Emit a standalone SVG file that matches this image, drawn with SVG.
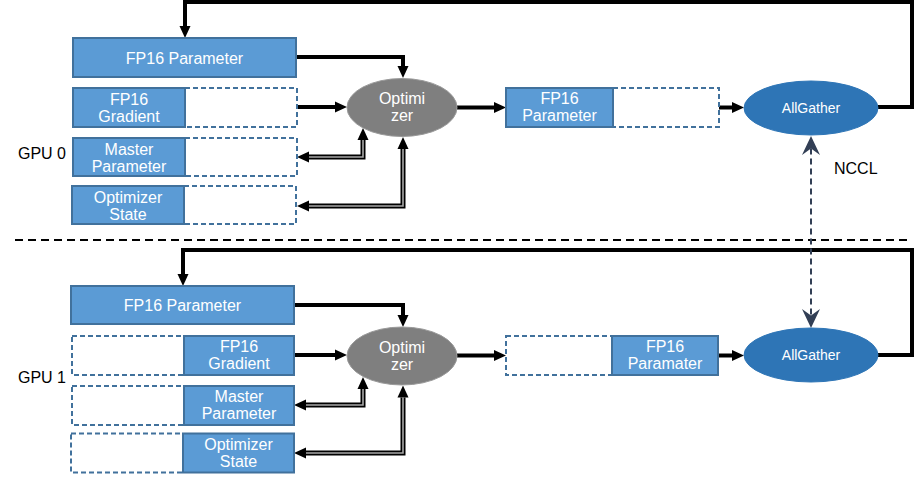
<svg xmlns="http://www.w3.org/2000/svg" width="916" height="484" viewBox="0 0 916 484">
<style>
.blue{fill:#5B9BD5;stroke:#41719C;stroke-width:2}
.dash{fill:#fff;stroke:#41719C;stroke-width:2;stroke-dasharray:5 3}
.t{font-family:"Liberation Sans",Arial,sans-serif;font-size:16px;fill:#fff;text-anchor:middle}
.lbl{font-family:"Liberation Sans",Arial,sans-serif;font-size:16px;fill:#000}
.ag{font-family:"Liberation Sans",Arial,sans-serif;font-size:14px;fill:#fff;text-anchor:middle}
.opt{fill:#7F7F7F;stroke:#9A9A9A;stroke-width:1}
.all{fill:#2E75B6;stroke:#2E75B6;stroke-width:1}
.thick{fill:none;stroke:#000;stroke-width:4;marker-end:url(#ah)}
.dbl{fill:none;stroke:#000;stroke-width:5;marker-start:url(#ah);marker-end:url(#ah)}
.dbli{fill:none;stroke:#A8A8A8;stroke-width:1.6}
.nccl{fill:none;stroke:#323F55;stroke-width:2;stroke-dasharray:6 4;marker-start:url(#nh);marker-end:url(#nh)}
</style>
<defs>
<marker id="ah" markerUnits="userSpaceOnUse" markerWidth="12" markerHeight="12" viewBox="0 0 12 12" refX="0" refY="6" orient="auto-start-reverse">
<path d="M0,0.5 L12,6 L0,11.5 z" fill="#000"/>
</marker>
<marker id="nh" markerUnits="userSpaceOnUse" markerWidth="19" markerHeight="19" viewBox="0 0 19 19" refX="6.5" refY="9.5" orient="auto-start-reverse">
<path d="M0,0.5 L19,9.5 L0,18.5 L6.5,9.5 z" fill="#323F55"/>
</marker>
</defs>
<rect width="916" height="484" fill="#fff"/>

<g id="divider"><line x1="15" y1="240" x2="912" y2="240" stroke="#000" stroke-width="2" stroke-dasharray="8 5"/></g>

<g id="connectors">
<path class="thick" d="M878,107 L912,107 L912,2 L185,2 L185,26"/>
<path class="thick" d="M296,57 L403,57 L403,66"/>
<path class="thick" d="M297,107 L335,107"/>
<path class="thick" d="M457,107.5 L494,107.5"/>
<path class="thick" d="M719,107.5 L732,107.5"/>
<path class="dbl" d="M363,140 L363,157 L309,157"/>
<path class="dbli" d="M363,140 L363,157 L309,157"/>
<path class="dbl" d="M403,149 L403,206 L309,206"/>
<path class="dbli" d="M403,149 L403,206 L309,206"/>

<path class="thick" d="M878,355 L912,355 L912,250 L183,250 L183,274"/>
<path class="thick" d="M294,305 L403,305 L403,315"/>
<path class="thick" d="M294,355 L335,355"/>
<path class="thick" d="M457,355.5 L494,355.5"/>
<path class="thick" d="M718,355.5 L732,355.5"/>
<path class="dbl" d="M363,389 L363,405 L306,405"/>
<path class="dbli" d="M363,389 L363,405 L306,405"/>
<path class="dbl" d="M403,397.5 L403,453 L306,453"/>
<path class="dbli" d="M403,397.5 L403,453 L306,453"/>

<path class="nccl" d="M811,148.5 L811,315.5"/>
</g>

<g id="gpu0-label"><text class="lbl" x="18" y="159">GPU 0</text></g>
<g id="nccl-label"><text class="lbl" x="834" y="174">NCCL</text></g>
<g id="gpu1-label"><text class="lbl" x="18" y="383">GPU 1</text></g>

<g id="g0-fp16param">
<rect class="blue" x="73" y="38" width="223" height="39"/>
<text class="t" x="184.5" y="63.5">FP16 Parameter</text>
</g>
<g id="g0-gradient">
<rect class="dash" x="185" y="88" width="112" height="39"/>
<rect class="blue" x="73" y="88" width="112" height="39"/>
<text class="t" x="129" y="105">FP16</text>
<text class="t" x="129" y="122">Gradient</text>
</g>
<g id="g0-master">
<rect class="dash" x="185" y="138" width="112" height="38"/>
<rect class="blue" x="73" y="138" width="112" height="38"/>
<text class="t" x="129" y="155">Master</text>
<text class="t" x="129" y="172">Parameter</text>
</g>
<g id="g0-optstate">
<rect class="dash" x="184" y="186" width="112" height="38"/>
<rect class="blue" x="72" y="186" width="112" height="38"/>
<text class="t" x="128" y="203">Optimizer</text>
<text class="t" x="128" y="220">State</text>
</g>
<g id="g0-optimizer">
<ellipse class="opt" cx="402" cy="107.5" rx="55" ry="29"/>
<text class="t" x="402" y="104">Optimi</text>
<text class="t" x="402" y="121">zer</text>
</g>
<g id="g0-fp16out">
<rect class="dash" x="613" y="88" width="106" height="39"/>
<rect class="blue" x="506" y="88" width="107" height="39"/>
<text class="t" x="559.5" y="104">FP16</text>
<text class="t" x="559.5" y="121">Parameter</text>
</g>
<g id="g0-allgather">
<ellipse class="all" cx="811" cy="108" rx="67" ry="27"/>
<text class="ag" x="811" y="113">AllGather</text>
</g>

<g id="g1-fp16param">
<rect class="blue" x="71" y="286" width="223" height="38"/>
<text class="t" x="182.5" y="311">FP16 Parameter</text>
</g>
<g id="g1-gradient">
<rect class="dash" x="72" y="336" width="112" height="39"/>
<rect class="blue" x="184" y="336" width="110" height="39"/>
<text class="t" x="239" y="352">FP16</text>
<text class="t" x="239" y="369">Gradient</text>
</g>
<g id="g1-master">
<rect class="dash" x="72" y="386" width="112" height="39"/>
<rect class="blue" x="184" y="386" width="110" height="39"/>
<text class="t" x="239" y="402">Master</text>
<text class="t" x="239" y="419">Parameter</text>
</g>
<g id="g1-optstate">
<rect class="dash" x="71" y="433.5" width="112" height="39"/>
<rect class="blue" x="183" y="433.5" width="111" height="39"/>
<text class="t" x="238.5" y="450">Optimizer</text>
<text class="t" x="238.5" y="467">State</text>
</g>
<g id="g1-optimizer">
<ellipse class="opt" cx="402" cy="356" rx="55" ry="29"/>
<text class="t" x="402" y="352.5">Optimi</text>
<text class="t" x="402" y="369.5">zer</text>
</g>
<g id="g1-fp16out">
<rect class="dash" x="506" y="336" width="106" height="39"/>
<rect class="blue" x="612" y="336" width="106" height="39"/>
<text class="t" x="665" y="352">FP16</text>
<text class="t" x="665" y="369">Paramater</text>
</g>
<g id="g1-allgather">
<ellipse class="all" cx="811" cy="355" rx="67" ry="27"/>
<text class="ag" x="811" y="360">AllGather</text>
</g>
</svg>
